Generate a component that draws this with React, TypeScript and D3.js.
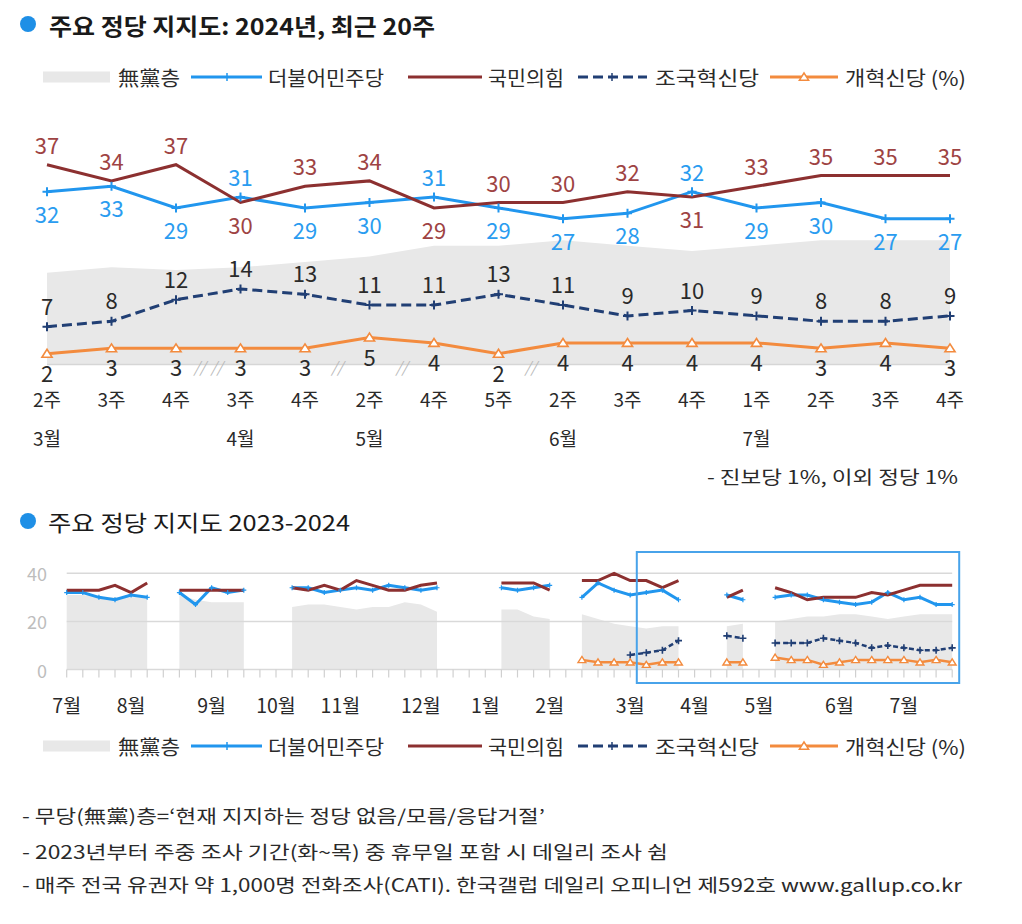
import React from 'react';
import * as d3 from 'd3';

const FONT = '"Noto Sans CJK KR", "Noto Sans", sans-serif';

// ---------- Top chart data (recent 20 weeks, 15 survey weeks) ----------
const weekLabels = ['2주', '3주', '4주', '3주', '4주', '2주', '4주', '5주', '2주', '3주', '4주', '1주', '2주', '3주', '4주'];
const monthIdxTop = [0, 3, 5, 8, 11];
const monthNamesTop = ['3월', '4월', '5월', '6월', '7월'];
const minjoo = [32, 33, 29, 31, 29, 30, 31, 29, 27, 28, 32, 29, 30, 27, 27];
const ppp = [37, 34, 37, 30, 33, 34, 29, 30, 30, 32, 31, 33, 35, 35, 35];
const cho = [7, 8, 12, 14, 13, 11, 11, 13, 11, 9, 10, 9, 8, 8, 9];
const reform = [2, 3, 3, 3, 3, 5, 4, 2, 4, 4, 4, 4, 3, 4, 3];
const nonpartisan = [17, 18, 17.5, 18, 19, 20, 22, 22, 23, 22, 21, 22, 23, 23, 23];
const gapAfterIdx = [2, 4, 5, 7];
const gapWeeks = [2, 1, 1, 1];

// ---------- Bottom chart data (weekly, Jul 2023 - Jul 2024) ----------
const N = null;
const bMonthIdx = [0, 4, 9, 13, 17, 22, 26, 30, 35, 39, 43, 48, 52];
const bMonthNames = ['7월', '8월', '9월', '10월', '11월', '12월', '1월', '2월', '3월', '4월', '5월', '6월', '7월'];
const bMinjoo = [32, 32, 30, 29, 31, 30, N, 32, 27, 34, 32, 33, N, N, 34, 34, 32, 33, 34, 33, 35, 34, 33, 34, N, N, N, 34, 33, 34, 35, N, 30, 36, 33, 31, 32, 33, 29, N, N, 31, 29, N, 30, 31, 31, 29, 28, 27, 28, 32, 29, 30, 27, 27];
const bPpp = [33, 33, 33, 35, 32, 36, N, 33, 33, 33, 33, 33, N, N, 34, 33, 35, 33, 37, 35, 33, 33, 35, 36, N, N, N, 36, 36, 36, 33, N, 37, 37, 40, 37, 37, 34, 37, N, N, 30, 33, N, 34, 32, 29, 30, 30, 30, 32, 31, 33, 35, 35, 35];
const bCho = [N, N, N, N, N, N, N, N, N, N, N, N, N, N, N, N, N, N, N, N, N, N, N, N, N, N, N, N, N, N, N, N, N, N, N, 6, 7, 8, 12, N, N, 14, 13, N, 11, 11, 11, 13, 12, 11, 9, 10, 9, 8, 8, 9];
const bReform = [N, N, N, N, N, N, N, N, N, N, N, N, N, N, N, N, N, N, N, N, N, N, N, N, N, N, N, N, N, N, N, N, 4, 3, 3, 3, 2, 3, 3, N, N, 3, 3, N, 5, 4, 4, 2, 3, 4, 4, 4, 4, 3, 4, 3];
const bNonpartisan = [31, 31, 30, 30, 30, 30, N, 31, 29, 28, 28, 28, N, N, 26, 27, 27, 26, 25, 26, 26, 28, 27, 24, N, N, N, 25, 25, 22, 21, N, 23, 21, 19, 18, 17, 18, 18, N, N, 18, 19, N, 20, 21, 22, 22, 23, 23, 22, 21, 22, 23, 23, 23];
const bYTicks = [0, 20, 40];
const highlightStart = 36;

const legendNames = ['無黨층', '더불어민주당', '국민의힘', '조국혁신당', '개혁신당 (%)'];
const footnotes = [
  '- 무당(無黨)층=‘현재 지지하는 정당 없음/모름/응답거절’',
  '- 2023년부터 주중 조사 기간(화~목) 중 휴무일 포함 시 데일리 조사 쉼',
  '- 매주 전국 유권자 약 1,000명 전화조사(CATI). 한국갤럽 데일리 오피니언 제592호 www.gallup.co.kr',
];

const C = {
  blue: '#2196ee',
  blueText: '#2a9cf0',
  red: '#8c3030',
  redText: '#9e4343',
  navy: '#213f74',
  orange: '#f38b3e',
  gray: '#e8e8e8',
  text: '#2a2a2a',
};

const plusPath = (s: number) => `M${-s},0H${s}M0,${-s}V${s}`;
const triPath = (s: number) => `M0,${-s}L${s * 1.15},${s * 0.8}L${-s * 1.15},${s * 0.8}Z`;

const legendTextX = [118, 268, 488, 655, 845];
const legendTextLen = [62, 116, 76, 104, 121];

function Legend({ y }: { y: number }) {
  return (
    <g fontFamily={FONT} fontSize={20} fill={C.text}>
      <rect x={43} y={y - 5.5} width={67} height={11} fill={C.gray} />
      <line x1={191} x2={262} y1={y} y2={y} stroke={C.blue} strokeWidth={3} />
      <path d={plusPath(4)} transform={`translate(227,${y})`} stroke={C.blue} strokeWidth={1.5} />
      <line x1={408} x2={482} y1={y} y2={y} stroke={C.red} strokeWidth={3} />
      <line x1={578} x2={647} y1={y} y2={y} stroke={C.navy} strokeWidth={3} strokeDasharray="10,5" />
      <path d={plusPath(4)} transform={`translate(612,${y})`} stroke={C.navy} strokeWidth={1.5} />
      <line x1={770} x2={838} y1={y} y2={y} stroke={C.orange} strokeWidth={3} />
      <path d={triPath(4)} transform={`translate(804,${y})`} stroke={C.orange} strokeWidth={1.5} fill="#fff" />
      {legendNames.map((n, k) => (
        <text key={n} x={legendTextX[k]} y={y} dominantBaseline="central"
          textLength={legendTextLen[k]} lengthAdjust="spacingAndGlyphs">{n}</text>
      ))}
    </g>
  );
}

export default function App() {
  const W = 1022, H = 924;
  const idx = d3.range(weekLabels.length);
  const xT = d3.scalePoint<number>().domain(idx).range([47, 950]);
  const yT = d3.scaleLinear().domain([0, 40]).range([364.5, 148.5]);
  const X = (i: number) => xT(i) as number;
  const lineT = d3.line<number>().x((_, i) => X(i)).y((d) => yT(d));
  const areaT = d3.area<number>().x((_, i) => X(i)).y0(yT(0)).y1((d) => yT(d));

  const xB = d3.scaleLinear().domain([0, bMinjoo.length - 1]).range([66.7, 952.2]);
  const yB = d3.scaleLinear().domain([0, 40]).range([669.5, 573.3]);
  type V = number | null;
  const lineB = d3.line<V>().defined((d) => d != null).x((_, i) => xB(i)).y((d) => yB(d as number));
  const areaB = d3.area<V>().defined((d) => d != null).x((_, i) => xB(i)).y0(yB(0)).y1((d) => yB(d as number));

  const labelDy = 21;

  return (
    <div style={{ position: 'absolute', left: 0, top: 0 }}>
      <svg width={W} height={H} style={{ display: 'block', background: '#fff' }} fontFamily={FONT}>
        {/* Title 1 */}
        <circle cx={28} cy={24} r={8} fill="#1e8fe6" />
        <text x={49} y={25} fontSize={23} fontWeight="bold" fill="#1a1a1a" dominantBaseline="central"
          textLength={386} lengthAdjust="spacingAndGlyphs">
          주요 정당 지지도: 2024년, 최근 20주
        </text>
        <Legend y={77} />

        {/* Top chart */}
        <path d={areaT(nonpartisan) || ''} fill={C.gray} />
        <line x1={X(0)} x2={X(idx.length - 1)} y1={yT(0)} y2={yT(0)} stroke="#d6d6d6" strokeWidth={1.5} />
        {gapAfterIdx.map((g, k) => {
          const mid = (X(g) + X(g + 1)) / 2;
          const n = gapWeeks[k];
          return d3.range(n).map((j) => (
            <text key={`${k}-${j}`} x={mid + (j - (n - 1) / 2) * 17} y={yT(0) + 2} fontSize={15}
              fill="#b8b8b8" textAnchor="middle" dominantBaseline="central" fontStyle="italic">//</text>
          ));
        })}
        <path d={lineT(reform) || ''} fill="none" stroke={C.orange} strokeWidth={3} />
        <path d={lineT(cho) || ''} fill="none" stroke={C.navy} strokeWidth={3} strokeDasharray="10,5" />
        <path d={lineT(minjoo) || ''} fill="none" stroke={C.blue} strokeWidth={3} />
        <path d={lineT(ppp) || ''} fill="none" stroke={C.red} strokeWidth={3} />
        {idx.map((i) => (
          <g key={`m${i}`}>
            <path d={plusPath(4.5)} transform={`translate(${X(i)},${yT(minjoo[i])})`} stroke={C.blue} strokeWidth={2} />
            <path d={plusPath(4.5)} transform={`translate(${X(i)},${yT(cho[i])})`} stroke={C.navy} strokeWidth={2} />
            <path d={triPath(4.4)} transform={`translate(${X(i)},${yT(reform[i])})`} stroke={C.orange} strokeWidth={1.6} fill="#fff" />
          </g>
        ))}
        <g fontSize={22} textAnchor="middle" dominantBaseline="central">
          {idx.map((i) => {
            const pAbove = ppp[i] >= minjoo[i];
            return (
              <g key={`l${i}`}>
                <text x={X(i)} y={yT(ppp[i]) + (pAbove ? -labelDy : labelDy)} fill={C.redText}>{ppp[i]}</text>
                <text x={X(i)} y={yT(minjoo[i]) + (pAbove ? labelDy : -labelDy)} fill={C.blueText}>{minjoo[i]}</text>
                <text x={X(i)} y={yT(cho[i]) - 22} fill={C.text}>{cho[i]}</text>
                <text x={X(i)} y={yT(reform[i]) + 18} fill={C.text}>{reform[i]}</text>
              </g>
            );
          })}
        </g>
        <g fontSize={19} textAnchor="middle" dominantBaseline="central" fill={C.text}>
          {idx.map((i) => (
            <text key={`w${i}`} x={X(i)} y={398}>{weekLabels[i]}</text>
          ))}
          {monthIdxTop.map((m, k) => (
            <text key={`mt${k}`} x={X(m)} y={437}>{monthNamesTop[k]}</text>
          ))}
        </g>
        <text x={958} y={476} fontSize={18} textAnchor="end" dominantBaseline="central" fill={C.text}
          textLength={251} lengthAdjust="spacingAndGlyphs">
          - 진보당 1%, 이외 정당 1%
        </text>

        {/* Title 2 */}
        <circle cx={28} cy={521} r={8} fill="#1e8fe6" />
        <text x={48} y={521} fontSize={22} fill="#1a1a1a" dominantBaseline="central"
          textLength={302} lengthAdjust="spacingAndGlyphs">
          주요 정당 지지도 2023-2024
        </text>

        {/* Bottom chart */}
        <path d={areaB(bNonpartisan) || ''} fill={C.gray} />
        {bYTicks.map((t) => (
          <g key={`yt${t}`}>
            <line x1={xB(0)} x2={xB(bMinjoo.length - 1)} y1={yB(t)} y2={yB(t)} stroke="#d9d9d9" strokeWidth={1.5} />
            <text x={47} y={yB(t)} fontSize={18} fill="#bdbdbd" textAnchor="end" dominantBaseline="central">{t}</text>
          </g>
        ))}
        {d3.range(bMinjoo.length).map((i) => (
          <line key={`tk${i}`} x1={xB(i)} x2={xB(i)} y1={yB(0)} y2={yB(0) + 8} stroke="#d0d0d0" strokeWidth={1.2} />
        ))}
        <path d={lineB(bReform) || ''} fill="none" stroke={C.orange} strokeWidth={2.5} />
        <path d={lineB(bCho) || ''} fill="none" stroke={C.navy} strokeWidth={2.5} strokeDasharray="5,3" />
        <path d={lineB(bMinjoo) || ''} fill="none" stroke={C.blue} strokeWidth={3} />
        <path d={lineB(bPpp) || ''} fill="none" stroke={C.red} strokeWidth={3} />
        {d3.range(bMinjoo.length).map((i) => (
          <g key={`bm${i}`}>
            {bMinjoo[i] != null && (
              <path d={plusPath(2.5)} transform={`translate(${xB(i)},${yB(bMinjoo[i] as number)})`} stroke={C.blue} strokeWidth={1.2} />
            )}
            {bCho[i] != null && (
              <path d={plusPath(3.5)} transform={`translate(${xB(i)},${yB(bCho[i] as number)})`} stroke={C.navy} strokeWidth={1.6} />
            )}
            {bReform[i] != null && (
              <path d={triPath(3.4)} transform={`translate(${xB(i)},${yB(bReform[i] as number)})`} stroke={C.orange} strokeWidth={1.4} fill="#fff" />
            )}
          </g>
        ))}
        <rect x={xB(highlightStart) - 9.5} y={552} width={xB(bMinjoo.length - 1) + 7 - (xB(highlightStart) - 9.5)} height={131}
          fill="none" stroke="#48a3ea" strokeWidth={2} />
        <g fontSize={19.5} textAnchor="middle" dominantBaseline="central" fill={C.text}>
          {bMonthIdx.map((m, k) => (
            <text key={`bmn${k}`} x={xB(m)} y={704}>{bMonthNames[k]}</text>
          ))}
        </g>
        <Legend y={746} />

        {/* Footnotes */}
        <g fontSize={18} fill={C.text} dominantBaseline="central">
          {footnotes.map((f, k) => (
            <text key={`fn${k}`} x={22} y={[815, 851, 884][k]}
              textLength={[523, 646, 940][k]} lengthAdjust="spacingAndGlyphs">{f}</text>
          ))}
        </g>
      </svg>
    </div>
  );
}
